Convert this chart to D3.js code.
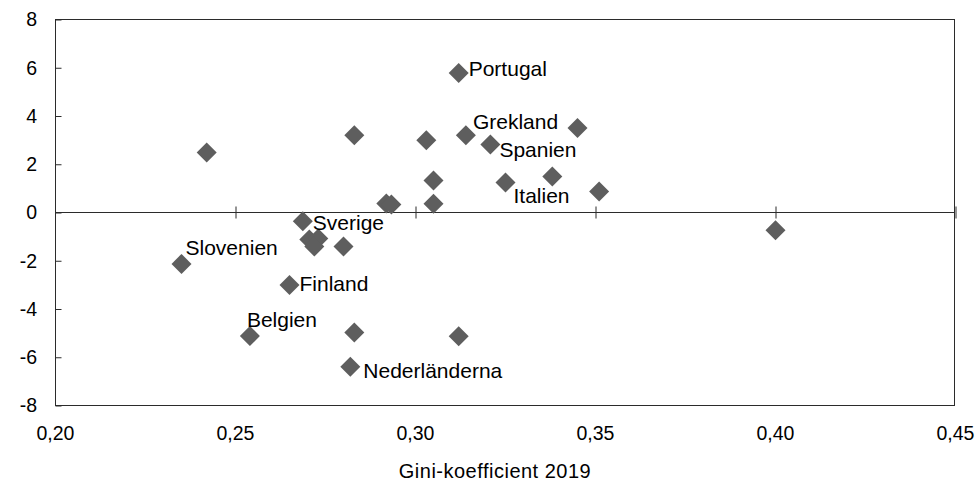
<!DOCTYPE html>
<html><head><meta charset="utf-8">
<script src="https://cdn.jsdelivr.net/npm/d3@7"></script>
<style>
html,body{margin:0;padding:0;background:#fff;}
svg text{font-family:"Liberation Sans",Arial,sans-serif;fill:#000;}
</style></head>
<body>
<svg id="chart" width="976" height="481"></svg>
<script>
// Data
const names = ["", "Slovenien", "Belgien", "Finland", "Sverige", "", "", "", "", "", "", "Nederländerna", "", "", "", "", "", "Portugal", "", "Grekland", "Spanien", "Italien", "", "", "", ""];
const gini  = [0.242, 0.235, 0.254, 0.265, 0.2687, 0.2705, 0.273, 0.2719, 0.280, 0.283, 0.283, 0.2819, 0.2919, 0.2933, 0.303, 0.305, 0.305, 0.312, 0.312, 0.314, 0.3208, 0.325, 0.338, 0.345, 0.351, 0.400];
const change = [2.49, -2.13, -5.12, -3.0, -0.36, -1.12, -1.08, -1.41, -1.41, 3.2, -4.97, -6.39, 0.37, 0.33, 2.99, 1.33, 0.36, 5.78, -5.13, 3.2, 2.82, 1.24, 1.49, 3.5, 0.87, -0.74];
const xTicks = [0.20, 0.25, 0.30, 0.35, 0.40, 0.45];
const yTicks = [-8, -6, -4, -2, 0, 2, 4, 6, 8];
const xTitle = "Gini-koefficient 2019";

// Label placement (layout only)
const labelOffset = {
  "Portugal": [10, 3], "Grekland": [7, -6], "Spanien": [9, 13], "Italien": [8, 20],
  "Sverige": [10, 9], "Slovenien": [4, -9], "Finland": [10, 6], "Belgien": [-3, -9],
  "Nederländerna": [13, 11]
};

const svg = d3.select("#chart");
const L = 55.5, R = 954.5, T = 19.5, B = 405.5;
const x = d3.scaleLinear().domain([0.20, 0.45]).range([L, L + 900]);
const y = d3.scaleLinear().domain([-8, 8]).range([B, T]);
const fmt = d3.format(".2f");
const comma = v => fmt(v).replace(".", ",");

// frame
svg.append("rect").attr("x", L).attr("y", T).attr("width", R - L).attr("height", B - T)
  .attr("fill", "none").attr("stroke", "#2b2b2b").attr("stroke-width", 1);

// y axis ticks (inward) + labels
const yAx = svg.append("g").attr("transform", `translate(${L},0)`)
  .call(d3.axisRight(y).tickValues(yTicks).tickSize(6).tickFormat(""));
yAx.select(".domain").remove();
yAx.selectAll("line").attr("stroke", "#2b2b2b");
svg.append("g").selectAll("text").data(yTicks).join("text")
  .attr("x", 37).attr("y", d => y(d)).attr("dy", "0.35em")
  .attr("text-anchor", "end").attr("font-size", 19.5).text(d => d);

// x axis at zero with crossing ticks
const xAx = svg.append("g").attr("transform", `translate(0,${y(0)})`)
  .call(d3.axisBottom(x).tickValues(xTicks.slice(1)).tickSize(6).tickFormat(""));
xAx.select(".domain").remove();
xAx.selectAll(".tick line").attr("y1", -6).attr("y2", 6).attr("stroke", "#2b2b2b");
svg.append("line").attr("x1", L).attr("x2", R).attr("y1", y(0)).attr("y2", y(0))
  .attr("stroke", "#2b2b2b");

// x tick labels at bottom
svg.append("g").selectAll("text").data(xTicks).join("text")
  .attr("x", d => x(d)).attr("y", 440).attr("text-anchor", "middle")
  .attr("font-size", 19.5).text(d => comma(d));

// x title
svg.append("text").attr("x", 495).attr("y", 478).attr("text-anchor", "middle")
  .attr("font-size", 20).attr("letter-spacing", "0.5px").text(xTitle);

// points
const pts = gini.map((g, i) => ({g, v: change[i], name: names[i]}));
const s = 10;
svg.append("g").selectAll("path").data(pts).join("path")
  .attr("d", d => `M${x(d.g)},${y(d.v) - s}L${x(d.g) + s},${y(d.v)}L${x(d.g)},${y(d.v) + s}L${x(d.g) - s},${y(d.v)}Z`)
  .attr("fill", "#5e5e5e");

// labels
svg.append("g").selectAll("text").data(pts.filter(d => d.name)).join("text")
  .attr("x", d => x(d.g) + labelOffset[d.name][0])
  .attr("y", d => y(d.v) + labelOffset[d.name][1])
  .attr("font-size", 21).text(d => d.name);
</script>
</body></html>
